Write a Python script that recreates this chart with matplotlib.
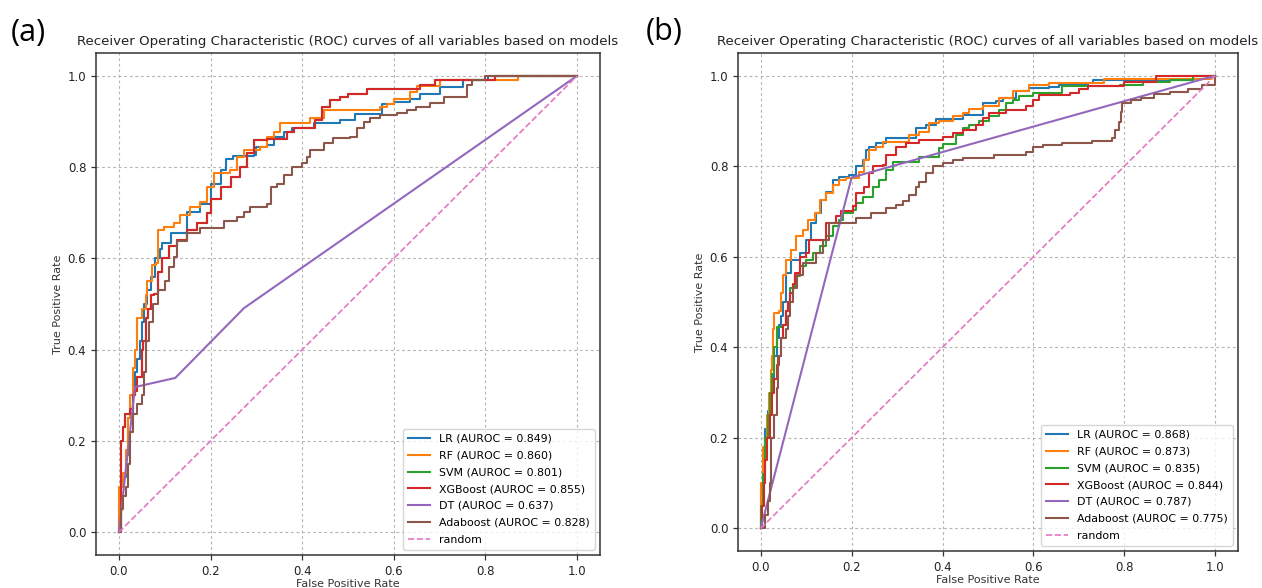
import matplotlib
matplotlib.use("Agg")
import matplotlib.pyplot as plt

# ---- panel (a) ----
lr_a_fpr = [0.0, 0.0, 0.005, 0.01, 0.015, 0.02, 0.03, 0.035, 0.04, 0.045,
            0.05, 0.055, 0.062, 0.07, 0.078, 0.09, 0.094, 0.113, 0.149, 0.178,
            0.2, 0.222, 0.233, 0.25, 0.294, 0.30, 0.323, 0.338, 0.36, 0.378,
            0.425, 0.483, 0.516, 0.574, 0.60, 0.636, 0.658, 0.70, 0.75, 0.805,
            1.0]
lr_a_tpr = [0.0, 0.03, 0.1, 0.12, 0.17, 0.25, 0.3, 0.35, 0.38, 0.42,
            0.46, 0.5, 0.53, 0.56, 0.6, 0.62, 0.633, 0.655, 0.702, 0.72,
            0.764, 0.793, 0.818, 0.825, 0.826, 0.845, 0.848, 0.866, 0.877, 0.885,
            0.896, 0.903, 0.917, 0.939, 0.943, 0.95, 0.961, 0.975, 0.99, 1.0,
            1.0]

rf_a_fpr = [0.0, 0.0, 0.01, 0.015, 0.02, 0.025, 0.03, 0.035, 0.04, 0.05,
            0.06, 0.062, 0.072, 0.08, 0.085, 0.098, 0.12, 0.134, 0.156, 0.178,
            0.193, 0.207, 0.243, 0.258, 0.273, 0.309, 0.323, 0.338, 0.352, 0.403,
            0.418, 0.447, 0.556, 0.57, 0.585, 0.60, 0.636, 0.65, 0.70, 0.872,
            1.0]
rf_a_tpr = [0.0, 0.1, 0.13, 0.18, 0.25, 0.3, 0.36, 0.4, 0.47, 0.49,
            0.52, 0.55, 0.585, 0.59, 0.663, 0.669, 0.677, 0.695, 0.713, 0.724,
            0.757, 0.786, 0.793, 0.823, 0.837, 0.845, 0.866, 0.877, 0.896, 0.896,
            0.907, 0.925, 0.925, 0.932, 0.939, 0.95, 0.965, 0.977, 0.991, 1.0,
            1.0]

xgb_a_fpr = [0.0, 0.004, 0.005, 0.008, 0.013, 0.025, 0.03, 0.035, 0.04, 0.05,
             0.053, 0.06, 0.063, 0.07, 0.076, 0.085, 0.095, 0.109, 0.127, 0.149,
             0.171, 0.193, 0.2, 0.222, 0.244, 0.265, 0.28, 0.294, 0.323, 0.367,
             0.382, 0.418, 0.429, 0.443, 0.461, 0.483, 0.50, 0.541, 0.658, 0.69,
             0.82, 1.0]
xgb_a_tpr = [0.0, 0.1, 0.2, 0.23, 0.26, 0.27, 0.3, 0.31, 0.34, 0.4,
             0.42, 0.47, 0.49, 0.52, 0.523, 0.57, 0.6, 0.626, 0.64, 0.662,
             0.677, 0.699, 0.731, 0.757, 0.779, 0.80, 0.83, 0.859, 0.862, 0.877,
             0.885, 0.885, 0.903, 0.932, 0.947, 0.954, 0.961, 0.972, 0.98, 0.99,
             1.0, 1.0]

# the SVM curve cannot be seen in panel (a): it lies under the XGBoost one
svm_a_fpr = xgb_a_fpr
svm_a_tpr = xgb_a_tpr

dt_a_fpr = [0.0, 0.035, 0.123, 0.273, 1.0]
dt_a_tpr = [0.0, 0.318, 0.338, 0.491, 1.0]

ada_a_fpr = [0.0, 0.005, 0.01, 0.015, 0.02, 0.025, 0.03, 0.04, 0.05, 0.055,
             0.06, 0.065, 0.075, 0.085, 0.10, 0.11, 0.12, 0.127, 0.149, 0.178,
             0.229, 0.258, 0.273, 0.287, 0.323, 0.331, 0.345, 0.36, 0.378, 0.40,
             0.41, 0.418, 0.447, 0.468, 0.505, 0.52, 0.534, 0.549, 0.57, 0.607,
             0.629, 0.648, 0.678, 0.71, 0.76, 0.77, 0.80, 1.0]
ada_a_tpr = [0.0, 0.05, 0.08, 0.1, 0.15, 0.22, 0.26, 0.28, 0.3, 0.35,
             0.42, 0.46, 0.5, 0.53, 0.55, 0.58, 0.604, 0.637, 0.655, 0.666,
             0.681, 0.691, 0.702, 0.713, 0.72, 0.757, 0.764, 0.782, 0.80, 0.808,
             0.822, 0.837, 0.852, 0.863, 0.866, 0.885, 0.899, 0.907, 0.914, 0.918,
             0.925, 0.932, 0.94, 0.954, 0.98, 0.99, 1.0, 1.0]

auc_a = [0.849, 0.860, 0.801, 0.855, 0.637, 0.828]

# ---- panel (b) ----
lr_b_fpr = [0.0, 0.0, 0.005, 0.01, 0.015, 0.02, 0.025, 0.03, 0.035, 0.04,
            0.045, 0.05, 0.055, 0.056, 0.067, 0.086, 0.10, 0.111, 0.122, 0.133,
            0.144, 0.159, 0.173, 0.195, 0.21, 0.225, 0.232, 0.239, 0.254, 0.276,
            0.32, 0.342, 0.364, 0.386, 0.444, 0.488, 0.517, 0.532, 0.561, 0.59,
            0.634, 0.656, 0.72, 0.73, 0.95, 1.0]
lr_b_tpr = [0.0, 0.05, 0.15, 0.22, 0.26, 0.3, 0.33, 0.38, 0.42, 0.45,
            0.47, 0.5, 0.54, 0.564, 0.593, 0.608, 0.637, 0.674, 0.696, 0.726,
            0.744, 0.77, 0.777, 0.781, 0.80, 0.814, 0.836, 0.842, 0.851, 0.862,
            0.862, 0.884, 0.891, 0.904, 0.913, 0.939, 0.943, 0.95, 0.965, 0.972,
            0.976, 0.979, 0.983, 0.99, 1.0, 1.0]

rf_b_fpr = [0.0, 0.0, 0.005, 0.01, 0.013, 0.018, 0.022, 0.025, 0.028, 0.03,
            0.04, 0.045, 0.05, 0.056, 0.067, 0.078, 0.093, 0.104, 0.119, 0.13,
            0.144, 0.159, 0.173, 0.188, 0.217, 0.228, 0.239, 0.254, 0.268, 0.327,
            0.349, 0.371, 0.393, 0.422, 0.444, 0.459, 0.488, 0.524, 0.554, 0.59,
            0.634, 0.756, 0.99, 1.0]
rf_b_tpr = [0.0, 0.1, 0.18, 0.2, 0.25, 0.3, 0.35, 0.38, 0.44, 0.475,
            0.48, 0.52, 0.56, 0.593, 0.615, 0.645, 0.66, 0.682, 0.696, 0.726,
            0.74, 0.759, 0.77, 0.774, 0.788, 0.814, 0.836, 0.842, 0.854, 0.869,
            0.876, 0.895, 0.899, 0.91, 0.917, 0.926, 0.932, 0.95, 0.965, 0.979,
            0.983, 0.993, 1.0, 1.0]

svm_b_fpr = [0.0, 0.0, 0.005, 0.01, 0.015, 0.02, 0.025, 0.03, 0.035, 0.048,
             0.055, 0.06, 0.065, 0.075, 0.086, 0.10, 0.115, 0.13, 0.144, 0.159,
             0.173, 0.181, 0.203, 0.21, 0.225, 0.247, 0.261, 0.276, 0.29, 0.349,
             0.393, 0.40, 0.43, 0.444, 0.459, 0.481, 0.503, 0.524, 0.539, 0.554,
             0.568, 0.598, 0.663, 0.79, 0.84, 0.90, 0.95, 1.0]
svm_b_tpr = [0.0, 0.05, 0.12, 0.2, 0.25, 0.3, 0.34, 0.4, 0.445, 0.45,
             0.48, 0.5, 0.53, 0.557, 0.579, 0.593, 0.608, 0.623, 0.645, 0.667,
             0.682, 0.696, 0.704, 0.718, 0.733, 0.755, 0.77, 0.792, 0.81, 0.821,
             0.84, 0.85, 0.869, 0.884, 0.891, 0.899, 0.91, 0.924, 0.939, 0.946,
             0.954, 0.961, 0.977, 0.98, 0.985, 0.99, 1.0, 1.0]

xgb_b_fpr = [0.0, 0.003, 0.008, 0.01, 0.013, 0.02, 0.025, 0.03, 0.035, 0.04,
             0.044, 0.05, 0.055, 0.06, 0.065, 0.07, 0.075, 0.086, 0.10, 0.107,
             0.144, 0.166, 0.177, 0.203, 0.21, 0.228, 0.239, 0.247, 0.268, 0.276,
             0.298, 0.32, 0.349, 0.40, 0.422, 0.444, 0.473, 0.488, 0.503, 0.539,
             0.583, 0.598, 0.612, 0.68, 0.70, 0.72, 0.80, 0.87, 1.0]
xgb_b_tpr = [0.0, 0.05, 0.1, 0.15, 0.2, 0.25, 0.3, 0.33, 0.36, 0.38,
             0.42, 0.45, 0.48, 0.5, 0.52, 0.54, 0.564, 0.60, 0.608, 0.637,
             0.674, 0.689, 0.70, 0.711, 0.74, 0.755, 0.785, 0.80, 0.803, 0.825,
             0.843, 0.851, 0.858, 0.865, 0.873, 0.88, 0.891, 0.906, 0.917, 0.924,
             0.932, 0.946, 0.957, 0.962, 0.97, 0.978, 0.985, 1.0, 1.0]

dt_b_fpr = [0.0, 0.2, 1.0]
dt_b_tpr = [0.0, 0.775, 1.0]

ada_b_fpr = [0.0, 0.01, 0.015, 0.02, 0.022, 0.03, 0.035, 0.038, 0.045, 0.055,
             0.06, 0.065, 0.07, 0.08, 0.093, 0.122, 0.137, 0.151, 0.21, 0.243,
             0.276, 0.298, 0.312, 0.327, 0.342, 0.349, 0.364, 0.378, 0.40, 0.422,
             0.444, 0.514, 0.583, 0.598, 0.62, 0.662, 0.728, 0.772, 0.78, 0.788,
             0.792, 0.795, 0.815, 0.837, 0.866, 0.90, 0.94, 0.97, 1.0]
ada_b_tpr = [0.0, 0.03, 0.06, 0.1, 0.2, 0.25, 0.31, 0.38, 0.42, 0.44,
             0.47, 0.5, 0.53, 0.56, 0.586, 0.608, 0.637, 0.674, 0.685, 0.696,
             0.707, 0.715, 0.722, 0.737, 0.755, 0.766, 0.785, 0.80, 0.807, 0.814,
             0.818, 0.825, 0.832, 0.843, 0.847, 0.852, 0.855, 0.863, 0.88, 0.898,
             0.92, 0.94, 0.946, 0.95, 0.96, 0.963, 0.97, 0.98, 1.0]

auc_b = [0.868, 0.873, 0.835, 0.844, 0.787, 0.775]

model_names = ['LR', 'RF', 'SVM', 'XGBoost', 'DT', 'Adaboost']
colors = ['tab:blue', 'tab:orange', 'tab:green', 'tab:red', 'tab:purple', 'tab:brown']
TITLE = 'Receiver Operating Characteristic (ROC) curves of all variables based on models'


def draw_panel(ax, curves, aucs):
    for (fpr, tpr), name, auc, col in zip(curves, model_names, aucs, colors):
        step = 'default' if name == 'DT' else 'steps-post'
        ax.plot(fpr, tpr, color=col, lw=1.5, drawstyle=step,
                label=f'{name} (AUROC = {auc:.3f})')
    ax.plot([0, 1], [0, 1], color='tab:pink', lw=1.2, linestyle='--', label='random')
    ax.set_xlim(-0.05, 1.05)
    ax.set_ylim(-0.05, 1.05)
    ax.set_xticks([0.0, 0.2, 0.4, 0.6, 0.8, 1.0])
    ax.set_yticks([0.0, 0.2, 0.4, 0.6, 0.8, 1.0])
    ax.tick_params(labelsize=8.5, length=3.5, width=0.9, color='#333333', labelcolor='#222222')
    ax.grid(True, linestyle=(0, (2.5, 2.5)), color='#b5b5b5', lw=0.8)
    for s in ax.spines.values():
        s.set_color('#333333')
        s.set_linewidth(1.1)
    ax.set_xlabel('False Positive Rate', fontsize=8, labelpad=1, color='#333333')
    ax.set_ylabel('True Positive Rate', fontsize=8, labelpad=3, color='#333333')
    ax.set_title(TITLE, fontsize=9.6, pad=6, color='#222222')
    ax.legend(loc='lower right', fontsize=7.9, handlelength=2.0, labelspacing=0.62,
              borderpad=0.45, framealpha=0.8)


fig = plt.figure(figsize=(12.62, 5.88), dpi=100)
ax1 = fig.add_axes([96 / 1262, 33 / 588, 504 / 1262, 502 / 588])
ax2 = fig.add_axes([738 / 1262, 37 / 588, 500 / 1262, 498 / 588])

draw_panel(ax1, [(lr_a_fpr, lr_a_tpr), (rf_a_fpr, rf_a_tpr), (svm_a_fpr, svm_a_tpr),
                 (xgb_a_fpr, xgb_a_tpr), (dt_a_fpr, dt_a_tpr), (ada_a_fpr, ada_a_tpr)],
           auc_a)
draw_panel(ax2, [(lr_b_fpr, lr_b_tpr), (rf_b_fpr, rf_b_tpr), (svm_b_fpr, svm_b_tpr),
                 (xgb_b_fpr, xgb_b_tpr), (dt_b_fpr, dt_b_tpr), (ada_b_fpr, ada_b_tpr)],
           auc_b)

fig.text(11 / 1262, 1 - 33 / 588, '(a)', fontsize=22, family='Open Sans', va='center')
fig.text(646 / 1262, 1 - 32 / 588, '(b)', fontsize=22, family='Open Sans', va='center')

fig.savefig('out.png', dpi=100)
